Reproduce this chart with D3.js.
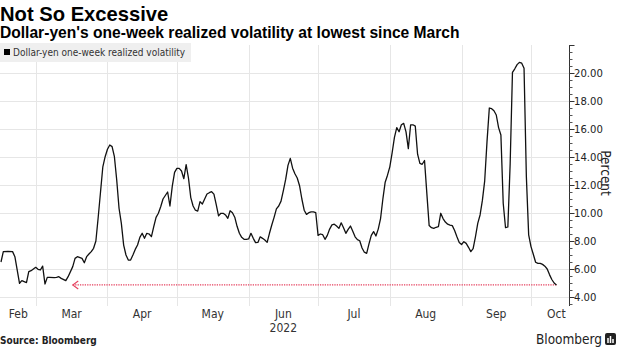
<!DOCTYPE html>
<html>
<head>
<meta charset="utf-8">
<script src="https://cdn.jsdelivr.net/npm/d3@7"></script>
<style>
  body { margin: 0; background: #fff; }
  svg text { font-family: "DejaVu Sans Condensed", "DejaVu Sans", sans-serif; }
  .hed { font-family: "Liberation Sans", Arial, sans-serif; font-weight: bold; fill: #000; }
</style>
</head>
<body>
<svg id="chart" width="620" height="348"></svg>
<script>
// Dollar-yen one-week realized volatility, percent
const dates = [
  "2022-02-14","2022-02-15","2022-02-17","2022-02-19","2022-02-20","2022-02-22","2022-02-23","2022-02-24","2022-02-25","2022-02-26","2022-02-27",
  "2022-03-01","2022-03-02","2022-03-03","2022-03-04","2022-03-05","2022-03-06","2022-03-07","2022-03-09","2022-03-10","2022-03-11","2022-03-12","2022-03-14","2022-03-15","2022-03-17","2022-03-18","2022-03-19","2022-03-21","2022-03-22","2022-03-23","2022-03-24","2022-03-25","2022-03-26","2022-03-27","2022-03-28","2022-03-29","2022-03-30","2022-03-31",
  "2022-04-01","2022-04-02","2022-04-03","2022-04-04","2022-04-05","2022-04-06","2022-04-07","2022-04-08","2022-04-09","2022-04-10","2022-04-11","2022-04-12","2022-04-13","2022-04-14","2022-04-15","2022-04-16","2022-04-17","2022-04-18","2022-04-19","2022-04-20","2022-04-21","2022-04-22","2022-04-23","2022-04-24","2022-04-25","2022-04-26","2022-04-27","2022-04-28","2022-04-29","2022-04-30",
  "2022-05-01","2022-05-02","2022-05-03","2022-05-04","2022-05-05","2022-05-06","2022-05-07","2022-05-08","2022-05-09","2022-05-10","2022-05-11","2022-05-12","2022-05-13","2022-05-14","2022-05-15","2022-05-16","2022-05-17","2022-05-18","2022-05-19","2022-05-20","2022-05-21","2022-05-22","2022-05-23","2022-05-24","2022-05-25","2022-05-26","2022-05-27","2022-05-28","2022-05-29","2022-05-30","2022-05-31",
  "2022-06-01","2022-06-02","2022-06-03","2022-06-04","2022-06-05","2022-06-06","2022-06-07","2022-06-08","2022-06-09","2022-06-10","2022-06-11","2022-06-12","2022-06-13","2022-06-14","2022-06-15","2022-06-16","2022-06-17","2022-06-18","2022-06-19","2022-06-20","2022-06-21","2022-06-22","2022-06-23","2022-06-24","2022-06-25","2022-06-26","2022-06-27","2022-06-28","2022-06-29","2022-06-30",
  "2022-07-01","2022-07-02","2022-07-03","2022-07-04","2022-07-05","2022-07-06","2022-07-07","2022-07-08","2022-07-09","2022-07-10","2022-07-11","2022-07-12","2022-07-13","2022-07-14","2022-07-15","2022-07-16","2022-07-17","2022-07-18","2022-07-19","2022-07-20","2022-07-21","2022-07-22","2022-07-23","2022-07-24","2022-07-25","2022-07-26","2022-07-27","2022-07-28","2022-07-29","2022-07-30","2022-07-31",
  "2022-08-01","2022-08-02","2022-08-03","2022-08-04","2022-08-05","2022-08-06","2022-08-07","2022-08-08","2022-08-09","2022-08-10","2022-08-11","2022-08-12","2022-08-13","2022-08-14","2022-08-15","2022-08-16","2022-08-17","2022-08-18","2022-08-19","2022-08-20","2022-08-21","2022-08-22","2022-08-23","2022-08-24","2022-08-25","2022-08-26","2022-08-27","2022-08-28","2022-08-29","2022-08-30","2022-08-31",
  "2022-09-01","2022-09-02","2022-09-03","2022-09-04","2022-09-05","2022-09-06","2022-09-07","2022-09-08","2022-09-09","2022-09-10","2022-09-11","2022-09-12","2022-09-13","2022-09-14","2022-09-15","2022-09-16","2022-09-17","2022-09-18","2022-09-19","2022-09-20","2022-09-21","2022-09-22","2022-09-23","2022-09-24","2022-09-25","2022-09-26","2022-09-27","2022-09-28","2022-09-29","2022-09-30",
  "2022-10-01","2022-10-02","2022-10-03","2022-10-04","2022-10-05","2022-10-06","2022-10-07","2022-10-08","2022-10-09","2022-10-10","2022-10-11","2022-10-12"
];
const vol = [
  6.5,7.24,7.26,7.24,6.88,4.98,5.17,5.10,5.03,5.81,5.88,
  6.12,5.98,5.93,6.21,4.93,5.40,5.40,5.38,5.40,5.45,5.33,5.17,5.45,6.17,6.76,6.88,6.76,6.45,6.88,7.07,7.24,7.48,8.0,9.7,11.5,13.3,14.02,
  14.55,14.86,14.74,14.02,12.36,10.34,9.26,7.71,7.0,6.64,6.64,7.0,7.40,7.71,8.26,8.55,8.19,8.55,8.5,8.31,9.02,9.69,9.98,10.45,11.0,11.25,11.5,10.5,11.9,12.9,
  13.19,13.19,13.0,12.45,13.45,12.5,11.1,10.5,10.2,10.14,10.81,10.64,11.0,11.36,11.45,11.52,11.35,10.6,9.79,9.98,9.98,9.86,9.62,10.16,10.02,9.7,9.05,8.55,8.26,8.12,8.12,
  8.15,8.55,8.19,7.88,7.9,8.3,8.19,8.07,7.9,8.55,9.14,9.69,10.3,10.5,10.85,11.6,12.4,13.4,13.9,13.2,12.8,12.5,11.95,11.0,10.2,9.9,10.02,10.08,10.08,10.02,
  8.4,8.5,8.45,8.12,8.4,8.85,9.15,9.2,9.07,8.9,9.3,8.95,8.55,8.83,9.07,8.7,8.3,8.1,8.02,7.5,7.2,7.12,7.8,8.4,8.67,8.36,8.85,9.6,11.0,12.2,12.7,
  13.3,14.3,15.4,16.1,15.8,16.3,16.4,15.8,14.6,16.3,16.3,16.21,14.2,13.55,13.48,13.75,11.4,9.1,8.95,8.9,8.98,9.02,9.98,9.6,9.35,9.2,9.14,9.1,8.75,8.3,7.9,
  7.75,7.95,7.83,7.55,7.24,7.45,8.3,9.26,9.86,10.9,12.3,15.1,17.5,17.45,17.3,17.0,16.1,15.57,10.7,8.95,9.0,13.5,20.05,20.3,20.6,20.76,20.7,20.34,12.6,8.43,
  7.6,7.05,6.48,6.4,6.4,6.33,6.2,6.0,5.6,5.25,5.0,4.86
];
const yTickValues = [4, 6, 8, 10, 12, 14, 16, 18, 20];
const seriesName = "Dollar-yen one-week realized volatility";
const arrowStart = "2022-03-17";   // earlier date the current low is compared with

const parse = d3.timeParse("%Y-%m-%d");
const data = dates.map((d, i) => ({ date: parse(d), value: vol[i] }));

const svg = d3.select("#chart");
svg.append("rect").attr("width", 620).attr("height", 348).attr("fill", "#fff");

// plot frame
const plotL = 0, plotR = 569, plotT = 45, plotB = 306;

const x = d3.scaleTime()
  .domain([parse("2022-02-14"), parse("2022-10-23")])
  .range([1, 581.9]);
const y = d3.scaleLinear().domain([3.357, 22]).range([plotB, plotT]);

// horizontal grid
svg.append("g").selectAll("line").data(yTickValues).join("line")
  .attr("x1", plotL).attr("x2", plotR)
  .attr("y1", d => Math.round(y(d)) + 0.5).attr("y2", d => Math.round(y(d)) + 0.5)
  .attr("stroke", "#e6e6e6").attr("stroke-width", 1);

// vertical grid at month starts
const monthStarts = d3.timeMonth.range(parse("2022-03-01"), parse("2022-10-02"));
svg.append("g").selectAll("line").data(monthStarts).join("line")
  .attr("x1", d => Math.round(x(d)) + 0.5).attr("x2", d => Math.round(x(d)) + 0.5)
  .attr("y1", plotT).attr("y2", plotB)
  .attr("stroke", "#e6e6e6").attr("stroke-width", 1);

// legend
const lg = svg.append("g");
lg.append("rect").attr("x", 0).attr("y", 43).attr("width", 191).attr("height", 19).attr("fill", "#efefef");
lg.append("rect").attr("x", 4).attr("y", 49).attr("width", 6).attr("height", 6).attr("fill", "#000");
lg.append("text").attr("x", 13).attr("y", 56).attr("font-size", 10).attr("fill", "#333").text(seriesName);

// reference line at the latest reading, pointing back to March
const last = data[data.length - 1];
const xa = x(parse(arrowStart)), ya = y(last.value);
svg.append("line")
  .attr("x1", xa).attr("x2", x(last.date))
  .attr("y1", ya).attr("y2", ya)
  .attr("stroke", "#e5405e").attr("stroke-width", 1.3).attr("stroke-dasharray", "1.3,1.1");
svg.append("path")
  .attr("d", `M${xa + 5.5},${ya - 4}L${xa},${ya}L${xa + 5.5},${ya + 4}`)
  .attr("fill", "none").attr("stroke", "#e5405e").attr("stroke-width", 1.1);

// series line
svg.append("path").datum(data)
  .attr("fill", "none").attr("stroke", "#111").attr("stroke-width", 1.3)
  .attr("stroke-linejoin", "round")
  .attr("d", d3.line().x(d => x(d.date)).y(d => y(d.value)));

// right axis
const ay = svg.append("g").attr("transform", `translate(${plotR + 0.5},0)`);
ay.append("line").attr("y1", plotT).attr("y2", plotB).attr("stroke", "#333");
const minor = d3.range(3.5, 22.01, 0.5);
ay.selectAll("line.mn").data(minor).join("line").attr("class", "mn")
  .attr("x1", 0).attr("x2", 3)
  .attr("y1", d => Math.round(y(d)) + 0.5).attr("y2", d => Math.round(y(d)) + 0.5)
  .attr("stroke", "#555");
ay.selectAll("line.mj").data(yTickValues.concat([22])).join("line").attr("class", "mj")
  .attr("x1", 0).attr("x2", 5)
  .attr("y1", d => Math.round(y(d)) + 0.5).attr("y2", d => Math.round(y(d)) + 0.5)
  .attr("stroke", "#333");
ay.selectAll("text").data(yTickValues).join("text")
  .attr("x", 4.5).attr("y", d => y(d)).attr("dy", "0.36em")
  .attr("font-size", 11.2).attr("fill", "#222")
  .text(d3.format(".2f"));
// rotated clockwise: glyphs extend to the right of the anchor
svg.append("text")
  .attr("transform", `translate(601,173) rotate(90)`)
  .attr("text-anchor", "middle").attr("font-size", 13.5).attr("fill", "#222")
  .text("Percent");

// month labels centred in each visible month
const domainStart = x.domain()[0], domainEnd = x.domain()[1];
const months = d3.timeMonth.range(parse("2022-02-01"), parse("2022-10-02"));
const fmtMonth = d3.timeFormat("%b");
const mx = m => {
  const a = m < domainStart ? domainStart : m;
  const nx = d3.timeMonth.offset(m, 1);
  const b = nx > domainEnd ? domainEnd : nx;
  return (x(a) + x(b)) / 2;
};
svg.append("g").selectAll("text").data(months).join("text")
  .attr("x", mx).attr("y", 317.5)
  .attr("text-anchor", "middle").attr("font-size", 12).attr("fill", "#333")
  .text(fmtMonth);
svg.append("text")
  .attr("x", mx(parse("2022-06-01"))).attr("y", 332)
  .attr("text-anchor", "middle").attr("font-size", 12).attr("fill", "#333")
  .text("2022");

// headline
svg.append("text").attr("class", "hed").attr("x", 0).attr("y", 21).attr("font-size", 20.2).text("Not So Excessive");
svg.append("text").attr("class", "hed").attr("x", 0).attr("y", 37.5).attr("font-size", 15.6)
  .text("Dollar-yen's one-week realized volatility at lowest since March");

// footer
svg.append("text").attr("x", 0).attr("y", 344).attr("font-size", 10).attr("font-weight", "bold").attr("fill", "#222")
  .text("Source: Bloomberg");
svg.append("text").attr("x", 602).attr("y", 344).attr("text-anchor", "end").attr("font-size", 13.5).attr("fill", "#222")
  .text("Bloomberg");
const logo = svg.append("g").attr("transform", "translate(605,333)");
logo.append("rect").attr("width", 11).attr("height", 12).attr("rx", 2).attr("fill", "#222");
[[3, 5, 1.5, 5], [5.5, 3, 1.5, 7], [8, 6, 1.5, 4]].forEach(b =>
  logo.append("rect").attr("x", b[0] - 0.75).attr("y", b[1]).attr("width", b[2]).attr("height", b[3]).attr("fill", "#fff"));
</script>
</body>
</html>
